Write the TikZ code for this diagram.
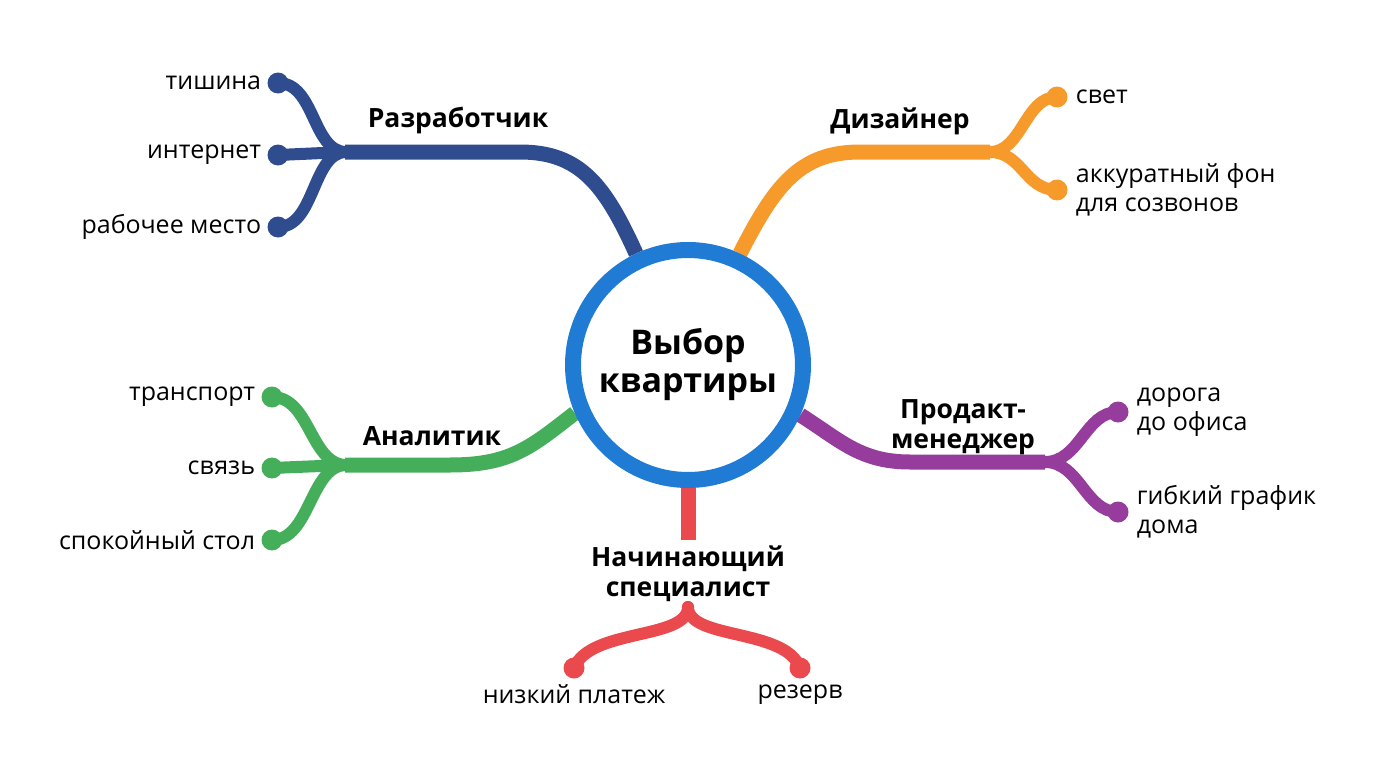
\documentclass[tikz,border=0pt]{standalone}
\usepackage{fontspec}
\setmainfont{Open Sans}
\usetikzlibrary{positioning,backgrounds}
\definecolor{hubcol}{HTML}{1F7BD3}
\definecolor{devcol}{HTML}{2F4C8E}
\definecolor{descol}{HTML}{F69A2C}
\definecolor{anacol}{HTML}{45AE5B}
\definecolor{pmcol}{HTML}{963C9C}
\definecolor{begcol}{HTML}{EA4A4E}
\begin{document}
\begin{tikzpicture}[x=1pt,y=-1pt,
    every node/.style={align=center},
    leaf/.style={font=\fontsize{25}{29}\selectfont, inner sep=2pt},
    head/.style={font=\fontsize{26.5}{30}\selectfont\bfseries},
    hub/.style={circle, draw=hubcol, line width=16pt, fill=white, minimum size=230pt,
        font=\fontsize{34}{38}\selectfont\bfseries},
    dot/.style={circle, fill=#1, minimum size=21pt, inner sep=0pt},
    trunk/.style={draw=#1, line width=15pt},
    twig/.style={draw=#1, line width=12pt, line cap=round},
    ]
\useasboundingbox (0,0) rectangle (1376,768);
\node[hub] (hub) at (688,365) {Выбор\\квартиры};

\coordinate (devK) at (520,152);
\coordinate (devF) at (345,152);
\node[dot=devcol] (devA) at (278,83) {};
\node[dot=devcol] (devB) at (278,155) {};
\node[dot=devcol] (devC) at (278,227) {};
\node[head] (dev) at (458,121) {Разработчик};
\node[leaf, left=4pt of devA, anchor=east] (devAt) {тишина};
\node[leaf, left=4pt of devB, anchor=east] (devBt) {интернет};
\node[leaf, left=4pt of devC, anchor=east] (devCt) {рабочее место};

\coordinate (desK) at (860,152);
\coordinate (desF) at (990,152);
\node[dot=descol] (desA) at (1057,97) {};
\node[dot=descol] (desB) at (1057,190) {};
\node[head] (des) at (900,121) {Дизайнер};
\node[leaf, right=6pt of desA, anchor=west] (desAt) {свет};
\node[leaf, right=6pt of desB, anchor=west, align=left] (desBt) {аккуратный фон\\для созвонов};

\coordinate (anaK) at (450,465);
\coordinate (anaF) at (345,465);
\node[dot=anacol] (anaA) at (272,397) {};
\node[dot=anacol] (anaB) at (272,468) {};
\node[dot=anacol] (anaC) at (272,540) {};
\node[head] (ana) at (432,436) {Аналитик};
\node[leaf, left=4pt of anaA, anchor=east] (anaAt) {транспорт};
\node[leaf, left=4pt of anaB, anchor=east] (anaBt) {связь};
\node[leaf, left=4pt of anaC, anchor=east] (anaCt) {спокойный стол};

\coordinate (pmK) at (910,462);
\coordinate (pmF) at (1045,462);
\node[dot=pmcol] (pmA) at (1118,412) {};
\node[dot=pmcol] (pmB) at (1118,512) {};
\node[head] (pm) at (963,427) {Продакт-\\менеджер};
\node[leaf, right=6pt of pmA, anchor=west, align=left] (pmAt) {дорога\\до офиса};
\node[leaf, right=6pt of pmB, anchor=west, align=left] (pmBt) {гибкий график\\дома};

\coordinate (begT) at (688,540);
\coordinate (begF) at (688,607);
\node[dot=begcol] (begA) at (574,668) {};
\node[dot=begcol] (begB) at (800,668) {};
\node[head] (beg) at (688,574) {Начинающий\\специалист};
\node[leaf, below=4pt of begA] (begAt) {низкий платеж};
\node[leaf, below=4pt of begB] (begBt) {резерв};

\begin{scope}[on background layer]
\draw[trunk=devcol] (hub.115) .. controls (605,185) and (580,152) .. (devK) -- (devF);
\draw[twig=devcol] (devF) .. controls (312,150) and (315,83) .. (devA.center);
\draw[twig=devcol] (devF) -- (devB.center);
\draw[twig=devcol] (devF) .. controls (312,154) and (315,227) .. (devC.center);

\draw[trunk=descol] (hub.65) .. controls (775,185) and (800,152) .. (desK) -- (desF);
\draw[twig=descol] (desF) .. controls (1022,152) and (1025,97) .. (desA.center);
\draw[twig=descol] (desF) .. controls (1022,152) and (1025,190) .. (desB.center);

\draw[trunk=anacol] (hub.203) .. controls (530,448) and (510,465) .. (anaK) -- (anaF);
\draw[twig=anacol] (anaF) .. controls (310,463) and (310,397) .. (anaA.center);
\draw[twig=anacol] (anaF) -- (anaB.center);
\draw[twig=anacol] (anaF) .. controls (310,467) and (310,540) .. (anaC.center);

\draw[trunk=pmcol] (hub.336) .. controls (840,440) and (860,462) .. (pmK) -- (pmF);
\draw[twig=pmcol] (pmF) .. controls (1080,462) and (1085,412) .. (pmA.center);
\draw[twig=pmcol] (pmF) .. controls (1080,462) and (1085,512) .. (pmB.center);

\draw[trunk=begcol] (hub.south) -- (begT);
\draw[twig=begcol] (begF) .. controls (688,640) and (590,628) .. (begA.center);
\draw[twig=begcol] (begF) .. controls (688,640) and (786,628) .. (begB.center);
\end{scope}
\end{tikzpicture}
\end{document}
